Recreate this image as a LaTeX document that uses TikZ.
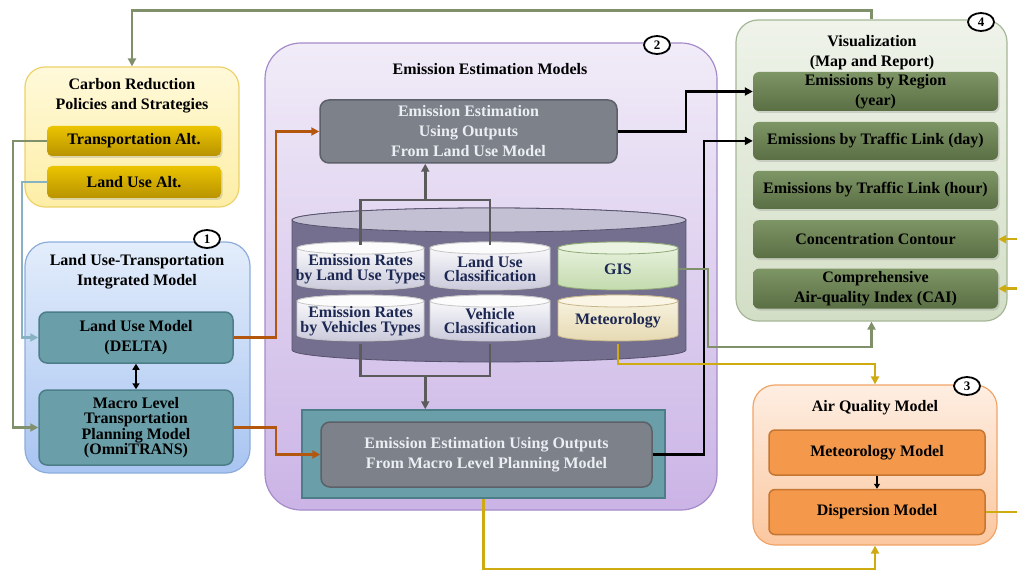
\documentclass[tikz,border=0pt]{standalone}
\usepackage{fontspec}
\setmainfont{Liberation Serif}
\usepackage{tikz}
\usetikzlibrary{arrows.meta,calc,positioning,shapes.geometric,shadows}

\definecolor{polTop}{HTML}{FFF9DA}
\definecolor{polBot}{HTML}{FDEEA6}
\definecolor{polLine}{HTML}{EDD26A}
\definecolor{altTop}{HTML}{EBC400}
\definecolor{altBot}{HTML}{B89300}
\definecolor{lutTop}{HTML}{E3EDFB}
\definecolor{lutBot}{HTML}{A8C4F1}
\definecolor{lutLine}{HTML}{8CADDB}
\definecolor{tealFill}{HTML}{6A9FA9}
\definecolor{tealLine}{HTML}{4C7E88}
\definecolor{eemTop}{HTML}{F1ECF8}
\definecolor{eemBot}{HTML}{CBB4E6}
\definecolor{eemLine}{HTML}{A58BC9}
\definecolor{estFill}{HTML}{7C818A}
\definecolor{estLine}{HTML}{5C6068}
\definecolor{estText}{HTML}{EBEFF3}
\definecolor{dbBody}{HTML}{746E8F}
\definecolor{dbEnd}{HTML}{C4C0D4}
\definecolor{dbLow}{HTML}{CACADC}
\definecolor{dbText}{HTML}{1C2752}
\definecolor{gisTop}{HTML}{EBF4E1}
\definecolor{gisBot}{HTML}{C3DAAE}
\definecolor{gisLine}{HTML}{8FA977}
\definecolor{metTop}{HTML}{FAF5E4}
\definecolor{metBot}{HTML}{E6DAB3}
\definecolor{metLine}{HTML}{C6B68B}
\definecolor{visTop}{HTML}{EFF3EA}
\definecolor{visBot}{HTML}{D3DEC6}
\definecolor{visLine}{HTML}{A6B797}
\definecolor{itemTop}{HTML}{7E9566}
\definecolor{itemBot}{HTML}{5A6F44}
\definecolor{aqTop}{HTML}{FEEEE2}
\definecolor{aqBot}{HTML}{FBC79F}
\definecolor{aqLine}{HTML}{F1A467}
\definecolor{aqFill}{HTML}{F4984B}
\definecolor{aqItemLine}{HTML}{C47632}
\definecolor{lnOlive}{HTML}{7F906A}
\definecolor{lnBlue}{HTML}{86B2C4}
\definecolor{lnBrown}{HTML}{B4570E}
\definecolor{lnGray}{HTML}{5B5B5B}
\definecolor{lnYellow}{HTML}{CFAB12}

% cylinder outline: left, top, right, bottom, end radius, body top/bottom colour, border, lid colour
\newcommand{\dbcyl}[9]{%
    \path[top color=#6, bottom color=#7, draw=#8, line width=0.8pt]
        (#1,#2+#5) -- (#1,#4-#5)
        arc[start angle=180, end angle=360, x radius={(#3-#1)/2*1pt}, y radius=#5pt]
        -- (#3,#2+#5)
        arc[start angle=0, end angle=180, x radius={(#3-#1)/2*1pt}, y radius=#5pt] -- cycle;
    \path[fill=#9, draw=#8, line width=0.8pt] ({(#1+#3)/2},#2+#5) ellipse[x radius={(#3-#1)/2*1pt}, y radius=#5pt];
}

\begin{document}
\begin{tikzpicture}[x=1pt, y=-1pt,
                    every node/.style={font=\bfseries\fontsize{16}{20}\selectfont, align=center, inner sep=1pt},
                    TITLE/.style={draw=none, fill=none},
                    NUM/.style={ellipse, draw=black, line width=1.8pt, fill=white, minimum width=26pt, minimum height=18pt, inner sep=0pt, font=\bfseries\fontsize{13}{13}\selectfont},
                    SHADE/.style={drop shadow={opacity=0.25, shadow xshift=1.5pt, shadow yshift=-2pt}},
                    POLICY/.style={rectangle, rounded corners=20pt, line width=1.2pt, draw=polLine, top color=polTop, bottom color=polBot},
                    ALT/.style={rectangle, rounded corners=5pt, top color=altTop, bottom color=altBot, SHADE, minimum width=174pt},
                    LUT/.style={rectangle, rounded corners=24pt, line width=1.2pt, draw=lutLine, top color=lutTop, bottom color=lutBot},
                    TEAL/.style={rectangle, rounded corners=8pt, line width=1.5pt, draw=tealLine, fill=tealFill, minimum width=194pt},
                    EEM/.style={rectangle, rounded corners=36pt, line width=1.2pt, draw=eemLine, top color=eemTop, bottom color=eemBot},
                    EST/.style={rectangle, rounded corners=9pt, line width=1.5pt, draw=estLine, fill=estFill, text=estText},
                    DBTXT/.style={rectangle, text=dbText, font=\bfseries\fontsize{16}{14.5}\selectfont, minimum width=120pt, minimum height=48pt, yshift=-3pt},
                    VIS/.style={rectangle, rounded corners=22pt, line width=1.2pt, draw=visLine, top color=visTop, bottom color=visBot},
                    VISITEM/.style={rectangle, rounded corners=6pt, top color=itemTop, bottom color=itemBot, SHADE, minimum width=245pt, minimum height=38pt},
                    AQ/.style={rectangle, rounded corners=22pt, line width=1.2pt, draw=aqLine, top color=aqTop, bottom color=aqBot},
                    AQITEM/.style={rectangle, rounded corners=6pt, line width=1.5pt, draw=aqItemLine, fill=aqFill, minimum width=216pt, minimum height=45pt},
                    LINK/.style={line width=2.5pt, -{Triangle[length=8pt,width=8pt]}},
                ]
                \useasboundingbox (0,0) rectangle (1017,572);

                \begin{scope}
                    \node[POLICY, minimum width=214pt, minimum height=140pt] (Policy) at (132,137) {};
                    \node[TITLE] (Policy_T) at (132,96) {Carbon Reduction\\Policies and Strategies};
                    \node[ALT, minimum height=30pt] (Trans_Alt) at (134,141) {Transportation Alt.};
                    \node[ALT, minimum height=32pt] (LandUse_Alt) at (134,182) {Land Use Alt.};
                \end{scope}

                \begin{scope}
                    \node[LUT, minimum width=225pt, minimum height=231pt] (LUT_Model) at (137.5,357.5) {};
                    \node[TITLE] (LUT_T) at (137,272) {Land Use-Transportation\\Integrated Model};
                    \node[NUM] (Num_1) at (207,239) {1};
                    \node[TEAL, minimum height=51pt] (LU_Model) at (136,337.5) {Land Use Model\\(DELTA)};
                    \node[TEAL, minimum height=75pt, font=\bfseries\fontsize{16}{15.5}\selectfont] (Macro_Model) at (136,427.5) {Macro Level\\Transportation\\Planning Model\\(OmniTRANS)};
                \end{scope}

                \begin{scope}
                    \node[EEM, minimum width=452pt, minimum height=467pt] (EEM_Model) at (491,276.5) {};
                    \node[TITLE] (EEM_T) at (490,69) {Emission Estimation Models};
                    \node[NUM] (Num_2) at (657,45) {2};
                    \node[EST, minimum width=297pt, minimum height=63pt] (Est_LU) at (468.5,131.5) {Emission Estimation\\Using Outputs\\From Land Use Model};

                    \dbcyl{292}{208}{686}{362}{12}{dbBody}{dbBody}{dbBody!75!black}{dbEnd}
                    \dbcyl{297}{242}{424}{290}{6}{white}{dbLow}{gray!45}{white!95!dbEnd}
                    \dbcyl{430}{242}{550}{290}{6}{white}{dbLow}{gray!45}{white!95!dbEnd}
                    \dbcyl{558}{242}{678}{290}{6}{gisTop}{gisBot}{gisLine}{gisTop}
                    \dbcyl{297}{295}{424}{341}{6}{white}{dbLow}{gray!45}{white!95!dbEnd}
                    \dbcyl{430}{295}{550}{341}{6}{white}{dbLow}{gray!45}{white!95!dbEnd}
                    \dbcyl{558}{295}{678}{341}{6}{metTop}{metBot}{metLine}{metTop}

                    \node[DBTXT, minimum width=127pt] (Rate_LU) at (360.5,266) {Emission Rates\\by Land Use Types};
                    \node[DBTXT] (Class_LU) at (490,266) {Land Use\\Classification};
                    \node[DBTXT] (GIS) at (618,266) {GIS};
                    \node[DBTXT, minimum width=127pt, minimum height=46pt] (Rate_Veh) at (360.5,318) {Emission Rates\\by Vehicles Types};
                    \node[DBTXT, minimum height=46pt] (Class_Veh) at (490,318) {Vehicle\\Classification};
                    \node[DBTXT, minimum height=46pt] (Met) at (618,318) {Meteorology};

                    \node[rectangle, draw=tealLine, line width=1.5pt, fill=tealFill, minimum width=363pt, minimum height=88pt] (Macro_Frame) at (483.5,454) {};
                    \node[EST, minimum width=331pt, minimum height=65pt] (Est_Macro) at (486.5,454.5) {Emission Estimation Using Outputs\\From Macro Level Planning Model};
                \end{scope}

                \begin{scope}
                    \node[VIS, minimum width=271pt, minimum height=301pt] (Vis) at (871.5,170.5) {};
                    \node[TITLE] (Vis_T) at (872,53) {Visualization\\(Map and Report)};
                    \node[NUM] (Num_4) at (981,22) {4};
                    \node[VISITEM, minimum height=39pt] (Vis_Region) at (875.5,91.5) {Emissions by Region\\(year)};
                    \node[VISITEM] (Vis_Day)     [below=10.5pt of Vis_Region]  {Emissions by Traffic Link (day)};
                    \node[VISITEM] (Vis_Hour)    [below=10.5pt of Vis_Day]     {Emissions by Traffic Link (hour)};
                    \node[VISITEM] (Vis_Contour) [below=11pt of Vis_Hour]      {Concentration Contour};
                    \node[VISITEM, minimum height=40pt] (Vis_CAI) [below=10pt of Vis_Contour] {Comprehensive\\Air-quality Index (CAI)};
                \end{scope}

                \begin{scope}
                    \node[AQ, minimum width=244pt, minimum height=160pt] (AQ_Model) at (875,465) {};
                    \node[TITLE] (AQ_T) at (875,408) {Air Quality Model};
                    \node[NUM] (Num_3) at (967,386) {3};
                    \node[AQITEM] (Met_Model) at (877,452.5) {Meteorology Model};
                    \node[AQITEM] (Disp_Model) [below=13pt of Met_Model] {Dispersion Model};
                \end{scope}

                % policy feedback and policy inputs
                \draw[LINK, lnOlive] (Vis.north) -- ++(0,-9) -| (Policy.north);
                \draw[LINK, lnOlive] (Trans_Alt.west) -- ++(-34,0) |- (Macro_Model.west);
                \draw[LINK, lnBlue] (LandUse_Alt.west) -- ++(-25,0) |- (LU_Model.west);
                \draw[line width=2pt, {Triangle[length=6pt,width=7pt]}-{Triangle[length=6pt,width=7pt]}] (LU_Model) -- (Macro_Model);

                \draw[LINK, lnBrown] (LU_Model.east) -- ++(42,0) |- (Est_LU.west);
                \draw[LINK, lnBrown] (Macro_Model.east) -- ++(42,0) |- (Est_Macro.west);

                \draw[LINK, black] (Est_LU.east) -- ++(68,0) |- (Vis_Region.west);
                \draw[LINK, black] (Est_Macro.east) -- ++(51,0) |- (Vis_Day.west);

                % data stores feeding the two estimations
                \draw[line width=2.5pt, lnGray] (Rate_LU.north) -- ++(0,-45) -| (Class_LU.north);
                \coordinate (Up_Join) at ($(Rate_LU.north)!0.5!(Class_LU.north)+(0,-45)$);
                \draw[LINK, lnGray] (Up_Join) -- (Up_Join |- Est_LU.south);
                \draw[line width=2.5pt, lnGray] (Rate_Veh.south) -- ++(0,32) -| (Class_Veh.south);
                \coordinate (Down_Join) at ($(Rate_Veh.south)!0.5!(Class_Veh.south)+(0,32)$);
                \draw[LINK, lnGray] (Down_Join) -- (Down_Join |- Macro_Frame.north);

                \draw[LINK, lnOlive] (GIS.east) -- ++(30,0) -- ++(0,78) -| (Vis.south);
                \draw[LINK, lnYellow] (Met.south) -- ++(0,20) -| (AQ_Model.north);
                \draw[LINK, lnYellow] (Macro_Frame.south) -- ++(0,70) -| (AQ_Model.south);

                \draw[line width=1.8pt, -{Triangle[length=5pt,width=6pt]}] (Met_Model) -- (Disp_Model);
                \draw[line width=2.5pt, lnYellow] (Disp_Model.east) -- ++(45,0) coordinate (Rail);
                \draw[LINK, lnYellow] (Rail) |- (Vis_CAI.east);
                \draw[LINK, lnYellow] (Rail) |- (Vis_Contour.east);

\end{tikzpicture}
\end{document}
